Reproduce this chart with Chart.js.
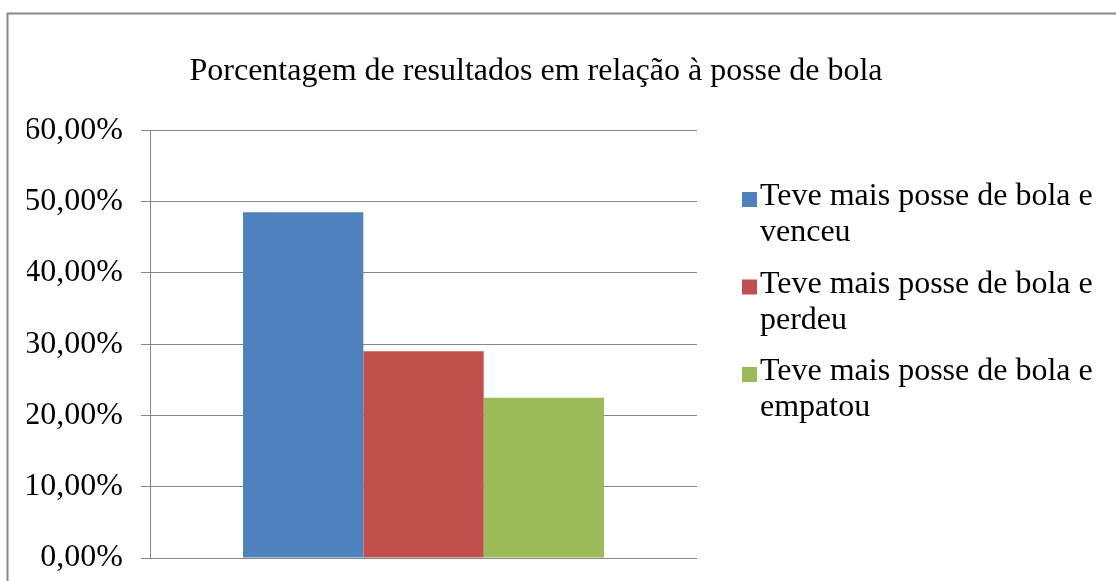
<!DOCTYPE html>
<html>
<head>
<meta charset="utf-8">
<script src="https://cdn.jsdelivr.net/npm/chart.js@4.4.1/dist/chart.umd.min.js"></script>
<style>
  html, body { margin: 0; padding: 0; background: #fff; }
  #chart { display: block; }
</style>
</head>
<body>
<canvas id="chart" width="1116" height="581"></canvas>
<script>
// dados do gráfico
const chartTitle = 'Porcentagem de resultados em relação à posse de bola';
const categories = [''];
const seriesNames = [
    ['Teve mais posse de bola e', 'venceu'],
    ['Teve mais posse de bola e', 'perdeu'],
    ['Teve mais posse de bola e', 'empatou'],
];
const venceu = [0.485];
const perdeu = [0.29];
const empatou = [0.225];
const yTickLabels = ['0,00%', '10,00%', '20,00%', '30,00%', '40,00%', '50,00%', '60,00%'];

const colors = ['#4F81BD', '#C0504D', '#9BBB59'];
const FONT = "'Liberation Serif', 'Times New Roman', serif";
const GRID = '#868686';

// moldura cinza do gráfico (cortada à direita e embaixo, como no original)
const chartBorder = {
    id: 'chartBorder',
    beforeDraw(chart) {
        const c = chart.ctx;
        c.save();
        c.strokeStyle = '#888888';
        c.lineWidth = 2;
        c.strokeRect(7.5, 13.5, 1300, 800);
        c.restore();
    }
};

// legenda à direita, com o texto quebrado em duas linhas
const sideLegend = {
    id: 'sideLegend',
    afterDraw(chart) {
        const c = chart.ctx;
        const x = chart.chartArea.right + 45;
        let y = 192;
        c.save();
        c.font = '32px ' + FONT;
        c.textBaseline = 'alphabetic';
        chart.data.datasets.forEach((ds, i) => {
            c.fillStyle = ds.backgroundColor;
            c.fillRect(x, y, 15, 15);
            c.fillStyle = '#000';
            seriesNames[i].forEach((line, j) => {
                c.fillText(line, x + 18, y + 13 + j * 36);
            });
            y += 87.5;
        });
        c.restore();
    }
};

Chart.defaults.font.family = FONT;

const ctx = document.getElementById('chart').getContext('2d');
const chart = new Chart(ctx, {
    type: 'bar',
    data: {
        labels: categories,
        datasets: [
            { label: seriesNames[0].join(' '), data: venceu, backgroundColor: colors[0] },
            { label: seriesNames[1].join(' '), data: perdeu, backgroundColor: colors[1] },
            { label: seriesNames[2].join(' '), data: empatou, backgroundColor: colors[2] },
        ]
    },
    options: {
        responsive: false,
        animation: false,
        layout: { padding: { top: 0, left: 27, right: 71, bottom: 23 } },
        datasets: {
            bar: { categoryPercentage: 0.66, barPercentage: 1 }
        },
        scales: {
            x: { display: false },
            y: {
                min: 0,
                max: 0.6,
                ticks: {
                    stepSize: 0.1,
                    padding: 18,
                    color: '#000',
                    font: { size: 32 },
                    callback: (v, i) => yTickLabels[i]
                },
                grid: { color: GRID, tickLength: 9 },
                border: { color: GRID },
                afterFit(s) {
                    s.width = 123;
                    s.paddingTop = 0;
                    s.paddingBottom = 0;
                }
            },
            // espaço reservado para a legenda
            legendSpace: {
                position: 'right',
                display: false,
                afterFit(s) { s.width = 348; }
            }
        },
        plugins: {
            title: {
                display: true,
                text: chartTitle,
                color: '#000',
                font: { size: 32, weight: 'normal' },
                padding: { top: 52, bottom: 40 }
            },
            legend: { display: false },
            tooltip: { enabled: false }
        }
    },
    plugins: [chartBorder, sideLegend]
});
</script>
</body>
</html>
